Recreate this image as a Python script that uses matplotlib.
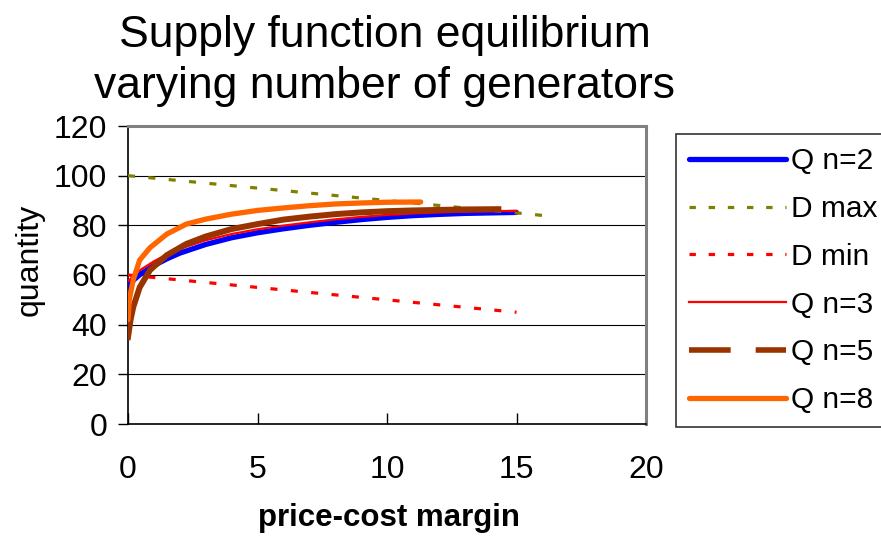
import matplotlib
matplotlib.use("Agg")
import matplotlib.pyplot as plt
from matplotlib.lines import Line2D

plt.rcParams['font.family'] = ['Liberation Sans', 'DejaVu Sans']

# Data
x_q2 = [0, 0.25, 0.5, 1, 1.5, 2, 3, 4, 5, 6, 7, 8, 9, 10, 11, 12, 13, 14, 15]
y_q2 = [55.5, 58.3, 60.5, 63.8, 66.5, 68.8, 72.3, 75, 77, 78.6, 80, 81.2, 82.3, 83.2, 83.9, 84.4, 84.8, 85, 85.2]

x_q3 = [0, 0.25, 0.5, 1, 1.5, 2, 3, 4, 5, 6, 7, 8, 9, 10, 11, 12, 13, 14, 15]
y_q3 = [57.5, 60, 62.2, 65.5, 68.3, 70.5, 74, 76.5, 78.4, 79.9, 81.2, 82.4, 83.4, 84.2, 84.8, 85.2, 85.5, 85.7, 85.8]

x_q5 = [0, 0.1, 0.2, 0.45, 0.85, 1.5, 2.25, 3, 4, 5, 6, 7, 8, 9, 10, 11, 12, 13, 14.3]
y_q5 = [35, 42, 47, 55, 62, 68, 72.5, 75.5, 78.5, 80.5, 82.3, 83.5, 84.5, 85.2, 85.7, 86, 86.2, 86.4, 86.5]

x_q8 = [0, 0.05, 0.2, 0.45, 0.85, 1.5, 2.25, 3, 4, 5, 6, 7, 8, 9, 10, 11.3]
y_q8 = [42, 50, 58, 66, 71, 76.5, 80.5, 82.5, 84.5, 86, 87, 87.9, 88.6, 89, 89.3, 89.4]

x_dmax = [0, 16.3]
y_dmax = [100, 83.7]

x_dmin = [0, 15]
y_dmin = [60, 45]

labels = ["Q n=2", "D max", "D min", "Q n=3", "Q n=5", "Q n=8"]
x_ticks = [0, 5, 10, 15, 20]
y_ticks = [0, 20, 40, 60, 80, 100, 120]

c_blue = "#0000FF"
c_olive = "#808000"
c_red = "#FF0000"
c_brown = "#993300"
c_orange = "#FF6600"

fig = plt.figure(figsize=(8.81, 5.45), dpi=100)
ax = fig.add_axes([128/881, 1-424/545, (646-128)/881, (424-126)/545])

dot = (0, (2.2, 4.2))
ax.plot(x_q2, y_q2, color=c_blue, lw=3.8, solid_capstyle='round', zorder=3)
ax.plot(x_dmax, y_dmax, color=c_olive, lw=2.3, linestyle=dot, zorder=3)
ax.plot(x_dmin, y_dmin, color=c_red, lw=2.3, linestyle=dot, zorder=3)
ax.plot(x_q3, y_q3, color=c_red, lw=1.6, zorder=4)
ax.plot(x_q5, y_q5, color=c_brown, lw=4.3, zorder=5)
ax.plot(x_q8, y_q8, color=c_orange, lw=3.8, solid_capstyle='round', zorder=6)

ax.set_xlim(x_ticks[0], x_ticks[-1])
ax.set_ylim(y_ticks[0], y_ticks[-1])
ax.set_xticks(x_ticks)
ax.set_yticks(y_ticks)
ax.tick_params(axis='y', direction='out', length=7, width=1, pad=8, labelsize=23)
ax.tick_params(axis='x', direction='in', length=8, width=1, pad=22, labelsize=23)

for v in y_ticks[1:-1]:
    ax.axhline(v, color='black', lw=0.8, zorder=1)

for s in ['left', 'bottom']:
    ax.spines[s].set_color('black')
    ax.spines[s].set_linewidth(1.2)
for s in ['top', 'right']:
    ax.spines[s].set_color('#808080')
    ax.spines[s].set_linewidth(2.2)

fig.text(385/881, 1-61/545, "Supply function equilibrium\nvarying number of generators",
         ha='center', va='center', fontsize=32, linespacing=1.32)
fig.text(30/881, 1-260/545, "quantity", rotation=90, ha='center', va='center', fontsize=23)
fig.text(389/881, 1-518/545, "price-cost margin", ha='center', va='center',
         fontsize=22.5, fontweight='bold')

handles = [
    Line2D([], [], color=c_blue, lw=3.8, solid_capstyle='round'),
    Line2D([], [], color=c_olive, lw=2.3, linestyle=(0, (2, 4))),
    Line2D([], [], color=c_red, lw=2.3, linestyle=(0, (2, 4))),
    Line2D([], [], color=c_red, lw=1.6),
    Line2D([], [], color=c_brown, lw=4.0, linestyle=(0, (7.5, 4.5))),
    Line2D([], [], color=c_orange, lw=3.8, solid_capstyle='round'),
]
leg = fig.legend(handles, labels, loc='upper left',
                 bbox_to_anchor=(676/881, 1-134/545), fontsize=21.5,
                 frameon=True, fancybox=False, edgecolor='black',
                 handlelength=3.25, handletextpad=0.15, labelspacing=0.66,
                 borderpad=0.45, borderaxespad=0)
leg.get_frame().set_linewidth(1.2)

fig.savefig("out.png", dpi=100)
